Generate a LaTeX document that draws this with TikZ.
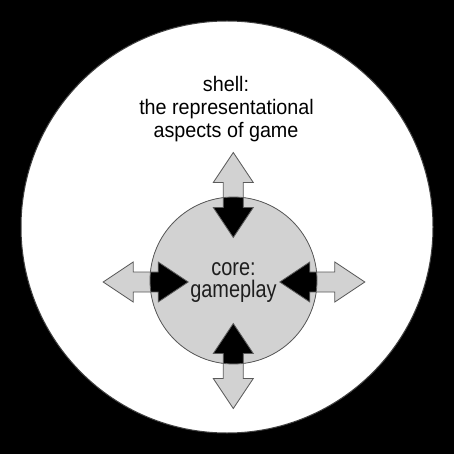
\documentclass[tikz,border=0pt]{standalone}
\usepackage{fontspec}
\setmainfont{Liberation Sans}
\definecolor{coregray}{HTML}{D2D2D2}
\definecolor{edgegray}{HTML}{5A5A5A}
\definecolor{ringgray}{HTML}{404040}
\definecolor{txtgray}{HTML}{1E1E1E}
\begin{document}
\begin{tikzpicture}[x=1pt,y=-1pt,
  shelltext/.style={anchor=base, inner sep=0pt, text=black, font=\fontsize{21}{23}\selectfont, xscale=0.94},
  coretext/.style={anchor=base, inner sep=0pt, text=txtgray, font=\fontsize{24}{23}\selectfont, xscale=0.83},
  outline/.style={draw=edgegray, line width=0.8pt, line join=miter}]
\useasboundingbox (0,0) rectangle (454,454);
\fill[black] (0,0) rectangle (454,454);
% shell
\node[circle, draw=ringgray, fill=white, line width=1pt, minimum size=412pt, inner sep=0pt] (shell) at (227,227) {};
% core base (black shows where arrows overlap the core)
\node[circle, fill=black, minimum size=167pt, inner sep=0pt] (core) at (233.5,280.5) {};
% arrows as coordinates
\def\uparrowpath{(233.3,152.5) -- (253.3,182.5) -- (243.3,182.5) -- (243.3,207.5) -- (253.3,207.5) -- (233.3,237.5) -- (213.3,207.5) -- (223.3,207.5) -- (223.3,182.5) -- (213.3,182.5) -- cycle}
\def\downarrowpath{(233.3,408.5) -- (253.3,378.5) -- (243.3,378.5) -- (243.3,353.5) -- (253.3,353.5) -- (233.3,323.5) -- (213.3,353.5) -- (223.3,353.5) -- (223.3,378.5) -- (213.3,378.5) -- cycle}
\def\leftarrowpath{(103.2,282) -- (133.2,262) -- (133.2,272) -- (158.2,272) -- (158.2,262) -- (188.2,282) -- (158.2,302) -- (158.2,292) -- (133.2,292) -- (133.2,302) -- cycle}
\def\rightarrowpath{(364.8,282) -- (334.8,262) -- (334.8,272) -- (309.8,272) -- (309.8,262) -- (279.8,282) -- (309.8,302) -- (309.8,292) -- (334.8,292) -- (334.8,302) -- cycle}
\fill[coregray, even odd rule] (core.center) circle[radius=83.5]
  \uparrowpath \downarrowpath \leftarrowpath \rightarrowpath;
\draw[outline] (core.center) circle[radius=83.5];
\draw[outline] \uparrowpath;
\draw[outline] \downarrowpath;
\draw[outline] \leftarrowpath;
\draw[outline] \rightarrowpath;
% texts
\node[shelltext] (shellA) at (226,91.7) {shell:};
\node[shelltext] (shellB) at (226.5,115) {the representational};
\node[shelltext] (shellC) at (226,137.7) {aspects of game};
\node[coretext] (coreA) at (233.5,275) {core:};
\node[coretext] (coreB) at (233.5,297.7) {gameplay};
\end{tikzpicture}
\end{document}
